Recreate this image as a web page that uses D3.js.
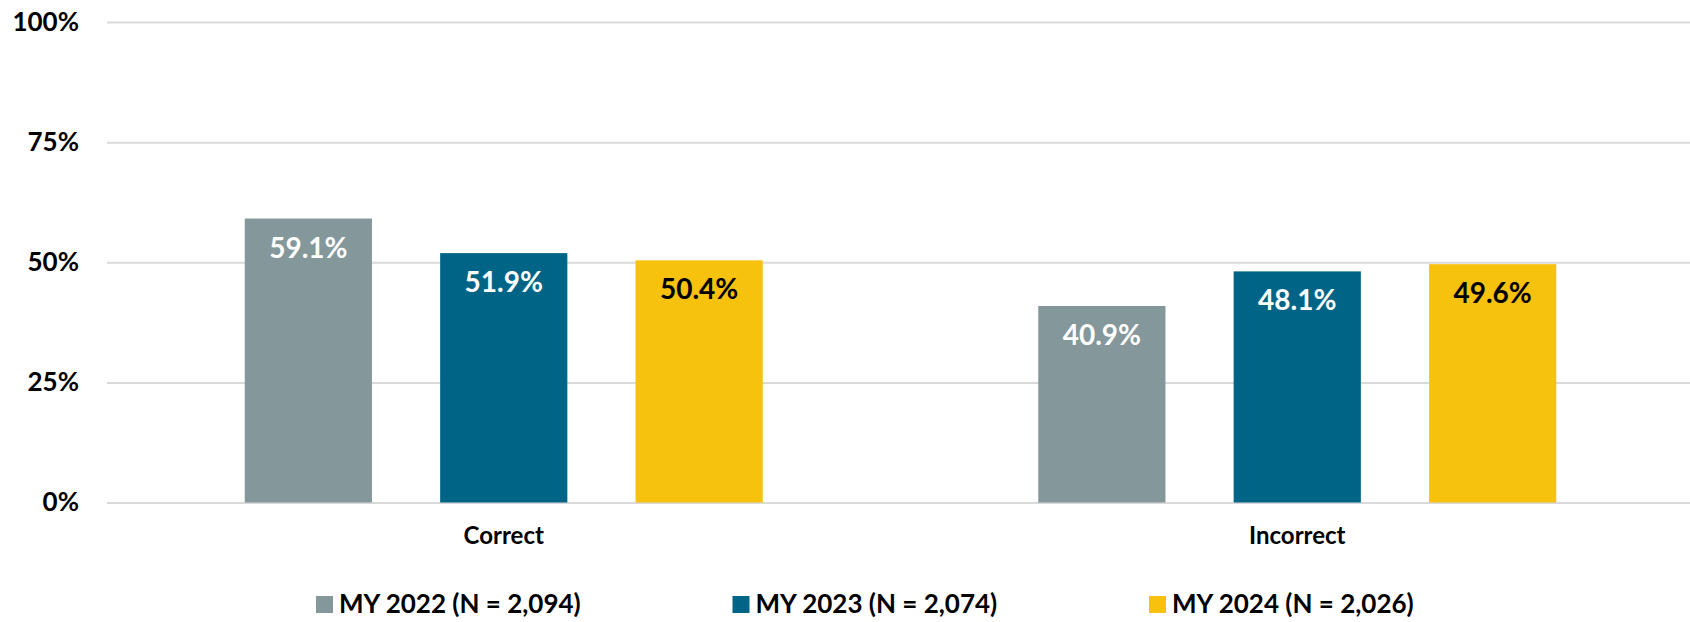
<!DOCTYPE html>
<html>
<head>
<meta charset="utf-8">
<script src="https://cdn.jsdelivr.net/npm/d3@7"></script>
<style>
  body { margin: 0; background: #fff; overflow: hidden; }
  svg { display: block; }
  text { font-family: Lato, "Open Sans", sans-serif; font-weight: bold; }
</style>
</head>
<body>
<div id="chart"></div>
<script>
// data
const categories = ["Correct", "Incorrect"];
const seriesNames = ["MY 2022 (N = 2,094)", "MY 2023 (N = 2,074)", "MY 2024 (N = 2,026)"];
const my2022 = [59.1, 40.9];
const my2023 = [51.9, 48.1];
const my2024 = [50.4, 49.6];
const yTicks = [0, 25, 50, 75, 100];

const colors = ["#84979a", "#006487", "#f7c20e"];
const labelColors = ["#ffffff", "#ffffff", "#000000"];

var width = 1690
var height = 622

var svg = d3.select("#chart").append("svg")
    .attr("width", width)
    .attr("height", height)

const margin = {top: 22, right: 0, bottom: 120, left: 107};
const innerWidth = width - margin.left - margin.right;
const innerHeight = 502.5 - margin.top;

const values = [my2022, my2023, my2024];
const data = categories.map((c, i) => ({
    category: c,
    bars: seriesNames.map((s, j) => ({ series: j, value: values[j][i] }))
}));

// category bands run a touch past the right edge, like the original
const x0 = d3.scaleBand()
    .domain(categories)
    .range([0, 1587])
    .padding(0);

const groupPad = (x0.bandwidth() - 518) / 2;

const x1 = d3.scaleBand()
    .domain(d3.range(seriesNames.length))
    .range([groupPad, x0.bandwidth() - groupPad])
    .paddingInner(0.349);

const y = d3.scaleLinear()
    .domain([0, 100])
    .range([innerHeight, 0]);

const g = svg.append("g")
    .attr("transform", `translate(${margin.left}, ${margin.top})`)

// gridlines + y labels
const yAxis = d3.axisLeft(y)
    .tickValues(yTicks)
    .tickSize(-innerWidth)
    .tickPadding(28)
    .tickFormat(d => d + "%");

const yAxisG = g.append("g").call(yAxis);
yAxisG.select(".domain").remove();
yAxisG.selectAll(".tick line")
    .attr("stroke", "#d9d9d9")
    .attr("stroke-width", 2);
yAxisG.selectAll(".tick text")
    .attr("fill", "#000")
    .style("font-size", "26px");

// bars
const groups = g.selectAll(".group")
    .data(data)
    .enter().append("g")
    .attr("class", "group")
    .attr("transform", d => `translate(${x0(d.category)}, 0)`);

groups.selectAll("rect")
    .data(d => d.bars)
    .enter().append("rect")
    .attr("x", d => x1(d.series))
    .attr("y", d => y(d.value))
    .attr("width", x1.bandwidth())
    .attr("height", d => innerHeight - y(d.value))
    .attr("fill", d => colors[d.series]);

groups.selectAll(".val")
    .data(d => d.bars)
    .enter().append("text")
    .attr("class", "val")
    .attr("x", d => x1(d.series) + x1.bandwidth() / 2)
    .attr("y", d => y(d.value) + 39)
    .attr("text-anchor", "middle")
    .attr("fill", d => labelColors[d.series])
    .style("font-size", "28px")
    .text(d => d.value.toFixed(1) + "%");

// category labels
const xAxis = d3.axisBottom(x0).tickSize(0).tickPadding(24);
const xAxisG = g.append("g")
    .attr("transform", `translate(0, ${innerHeight})`)
    .call(xAxis);
xAxisG.select(".domain").remove();
xAxisG.selectAll("text")
    .attr("fill", "#000")
    .style("font-size", "24px");

// legend
const legend = svg.append("g")
    .attr("transform", "translate(316, 596)");

const items = legend.selectAll(".item")
    .data(seriesNames)
    .enter().append("g")
    .attr("class", "item")
    .attr("transform", (d, i) => `translate(${i * 416.5}, 0)`);

items.append("rect")
    .attr("width", 17)
    .attr("height", 17)
    .attr("fill", (d, i) => colors[i]);

items.append("text")
    .attr("x", 23)
    .attr("y", 17)
    .style("font-size", "26px")
    .attr("fill", "#000")
    .text(d => d);
</script>
</body>
</html>
